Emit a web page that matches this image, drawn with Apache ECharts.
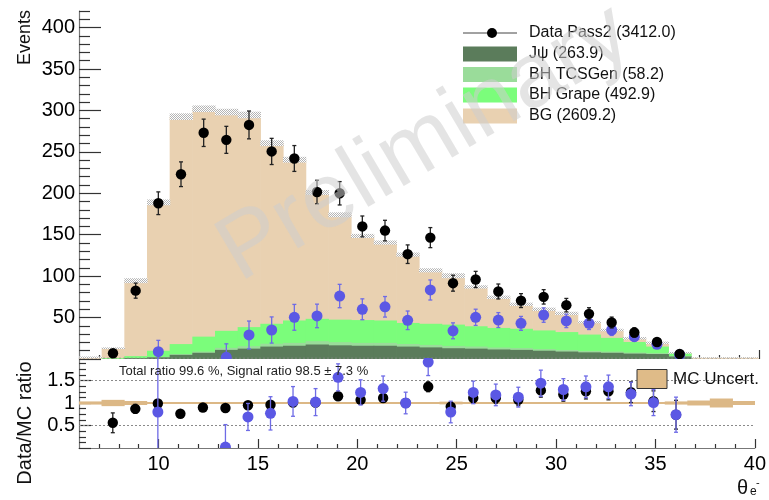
<!DOCTYPE html>
<html>
<head>
<meta charset="utf-8">
<script src="https://cdn.jsdelivr.net/npm/echarts@6/dist/echarts.min.js"></script>
<style>
  html, body { margin: 0; padding: 0; background: #ffffff; }
  #chart { width: 769px; height: 500px; }
</style>
</head>
<body>
<div id="chart"></div>
<script>
// θ(e-) binning: 30 equal bins between 6 and 40 degrees
const xMin = 6, xMax = 40, nBins = 30;

// MC stack components (events per bin)
const mcJpsi   = [0, 0, 1, 2, 5, 7.5, 11, 12.5, 15, 16, 17.5, 16.5, 16, 16, 15, 14, 13, 12.5, 11.5, 11, 10, 9, 8, 7.5, 6.5, 6, 3, 0, 0, 0];
const mcTcsGen = [0, 0, 0.3, 0.5, 1, 1.5, 2.5, 3, 3.5, 3.5, 4, 3.8, 3.5, 3.5, 3.2, 3, 2.8, 2.6, 2.4, 2.2, 2, 1.9, 1.7, 1.5, 1.3, 1.1, 0.6, 0, 0, 0];
const mcGrape  = [0, 1, 2.2, 7.5, 12, 18, 20.5, 23, 24, 27, 27, 27.2, 27.5, 27, 25.3, 25.5, 25.7, 24.4, 23.6, 23.3, 22.5, 21.6, 19.8, 16.5, 12.7, 7.9, 3.4, 0, 0, 0];
const mcBG     = [2, 12, 91, 179, 274.5, 275, 264, 256, 218, 194, 152.5, 126.5, 101.5, 94, 82.5, 64.5, 59, 47.5, 37, 29.5, 25.5, 22.5, 15, 9.5, 4.5, 4.5, 0.5, 1.5, 1.5, 1.5];
// MC statistical uncertainty on the stack total (events)
const mcStatErr = [1, 1, 3, 3.5, 4, 4, 4, 4, 3.5, 3.5, 3, 3, 2.5, 2.5, 2.5, 2.5, 3, 2, 2, 2, 2, 2, 1.5, 1.5, 1.5, 1.5, 1, 0.5, 0.5, 0.5];

// Data (Pass2) and background-subtracted data
const dataPass2   = [null, 7, 82.5, 188, 223, 273, 264.5, 282.5, 250.5, 242, 201.5, 200, 160, 155, 126.5, 146.5, 91.5, 96, 81.5, 70.5, 75, 65, 54.5, 44, 32, 20.5, 6, null, null, null];
const dataErr     = [null, 2.6, 9.1, 13.7, 14.9, 16.5, 16.3, 16.8, 15.8, 15.6, 14.2, 14.1, 12.6, 12.4, 11.2, 12.1, 9.6, 9.8, 9.0, 8.4, 8.7, 8.1, 7.4, 6.6, 5.7, 4.5, 2.4, null, null, null];
const dataMinusBG = [null, null, null, 8.8, null, null, 2, 29, 35, 50.3, 52, 76, 60, 63, 46.7, 83.3, 34, 50.3, 47, 43, 53, 46, 43, 35, 27, 17.7, 5, null, null, null];

// Data/MC ratios
const ratioTotal     = [null, 0.56, 0.87, 0.99, 0.76, 0.90, 0.89, 0.95, 0.96, 1.01, 1.01, 1.15, 1.07, 1.11, 1.00, 1.36, 0.92, 1.11, 1.11, 1.07, 1.28, 1.19, 1.26, 1.26, 1.24, 1.04, 0.74, null, null, null];
const ratioTotalErr  = [null, 0.22, 0.1, 0.07, 0.05, 0.06, 0.06, 0.06, 0.06, 0.065, 0.07, 0.08, 0.085, 0.09, 0.09, 0.11, 0.1, 0.11, 0.12, 0.13, 0.15, 0.15, 0.17, 0.19, 0.23, 0.23, 0.32, null, null, null];
const ratioSignal    = [null, null, null, 0.8, null, null, 0.02, 0.69, 0.77, 1.035, 1.02, 1.57, 1.235, 1.32, 1.0, 1.91, 0.8, 1.235, 1.18, 1.13, 1.44, 1.30, 1.36, 1.36, 1.2, 1.01, 0.74, null, null, null];
const ratioSignalErr = [null, null, null, 1.4, null, null, 0.5, 0.3, 0.37, 0.33, 0.3, 0.3, 0.28, 0.28, 0.24, 0.3, 0.24, 0.25, 0.24, 0.22, 0.29, 0.24, 0.24, 0.26, 0.26, 0.29, 0.39, null, null, null];
// relative MC uncertainty drawn around 1 in the ratio pad
const mcRelErr = [0.035, 0.07, 0.045, 0.015, 0.015, 0.015, 0.015, 0.015, 0.015, 0.015, 0.015, 0.015, 0.015, 0.015, 0.015, 0.015, 0.03, 0.02, 0.02, 0.02, 0.02, 0.02, 0.02, 0.02, 0.02, 0.02, 0.035, 0.055, 0.1, 0.045];

// Tick labels
const xTickLabels = [10, 15, 20, 25, 30, 35, 40];
const xMinorTicks = [7, 8, 9, 11, 12, 13, 14, 16, 17, 18, 19, 21, 22, 23, 24, 26, 27, 28, 29, 31, 32, 33, 34, 36, 37, 38, 39];
const yTickLabels = [50, 100, 150, 200, 250, 300, 350, 400];
const yMajorTicks = [0, 50, 100, 150, 200, 250, 300, 350, 400];
const yMinorTicks = [10, 20, 30, 40, 60, 70, 80, 90, 110, 120, 130, 140, 160, 170, 180, 190, 210, 220, 230, 240, 260, 270, 280, 290, 310, 320, 330, 340, 360, 370, 380, 390, 410, 420];
const rTickLabels = [0.5, 1, 1.5];
const rMajorTicks = [0, 0.5, 1, 1.5, 2];
const rMinorTicks = [0.125, 0.25, 0.375, 0.625, 0.75, 0.875, 1.125, 1.25, 1.375, 1.625, 1.75, 1.875];
const rGuideLines = [0.5, 1.5, 2];

// Legend texts
const legendData = 'Data Pass2 (3412.0)';
const legendStack = ['Jψ (263.9)', 'BH TCSGen (58.2)', 'BH Grape (492.9)', 'BG (2609.2)'];
const ratioSummary = 'Total ratio 99.6 %, Signal ratio 98.5 \u00b1 7.3 %';

// ---------------------------------------------------------------------------
const FONT = 'Liberation Sans, Arial, Helvetica, sans-serif';
const C_JPSI = '#5b7c5b', C_TCS = '#9adc9a', C_GRAPE = '#7bfd7b', C_BG = '#e9d1b1';
const C_BAND = '#dcb886', C_BLUE = '#5b58e4', C_BLUE_ERR = '#6e6be6';

const binW = (xMax - xMin) / nBins;
const edges = Array.from({ length: nBins + 1 }, (_, i) => xMin + i * binW);
const centers = edges.slice(0, -1).map((e, i) => (e + edges[i + 1]) / 2);

// hatched grey fill for the MC uncertainty band
const hatch = document.createElement('canvas');
hatch.width = 2; hatch.height = 2;
(function () {
  const c = hatch.getContext('2d');
  c.fillStyle = '#ffffff'; c.fillRect(0, 0, 2, 2);
  c.fillStyle = '#b4b4b4'; c.fillRect(0, 0, 1, 1); c.fillRect(1, 1, 1, 1);
})();

function rectRenderer(fill) {
  return function (params, api) {
    const p0 = api.coord([api.value(0), api.value(3)]);
    const p1 = api.coord([api.value(1), api.value(2)]);
    return {
      type: 'rect',
      shape: { x: p0[0], y: p0[1], width: p1[0] - p0[0] + 0.6, height: p1[1] - p0[1] },
      style: { fill: fill }
    };
  };
}

function pointRenderer(color, errColor, cap, radius) {
  return function (params, api) {
    const x = api.value(0), y = api.value(1), e = api.value(2);
    const c = api.coord([x, y]);
    const a = api.coord([x, y + e]);
    const b = api.coord([x, y - e]);
    const st = { stroke: errColor, lineWidth: 1.3 };
    return {
      type: 'group',
      children: [
        { type: 'line', shape: { x1: a[0], y1: a[1], x2: b[0], y2: b[1] }, style: st },
        { type: 'line', shape: { x1: a[0] - cap, y1: a[1], x2: a[0] + cap, y2: a[1] }, style: st },
        { type: 'line', shape: { x1: b[0] - cap, y1: b[1], x2: b[0] + cap, y2: b[1] }, style: st },
        { type: 'circle', shape: { cx: c[0], cy: c[1], r: radius }, style: { fill: color } }
      ]
    };
  };
}

function pointsOf(vals, errs) {
  const out = [];
  vals.forEach((v, i) => { if (v !== null) out.push([centers[i], v, errs[i]]); });
  return out;
}

const series = [];

// stacked MC histograms (cumulative heights, drawn back to front)
const layers = [[mcJpsi, C_JPSI], [mcTcsGen, C_TCS], [mcGrape, C_GRAPE], [mcBG, C_BG]];
const cumul = [];
let run = new Array(nBins).fill(0);
layers.forEach(([vals]) => { run = run.map((r, i) => r + vals[i]); cumul.push(run.slice()); });
for (let k = layers.length - 1; k >= 0; k--) {
  series.push({
    type: 'custom', xAxisIndex: 0, yAxisIndex: 0, clip: true, z: 1, silent: true,
    renderItem: rectRenderer(layers[k][1]),
    encode: { x: [0, 1], y: [2, 3] },
    data: cumul[k].map((h, i) => [edges[i], edges[i + 1], 0, h])
  });
}
const stackTotal = cumul[cumul.length - 1];
series.push({
  type: 'custom', xAxisIndex: 0, yAxisIndex: 0, clip: true, z: 2, silent: true,
  renderItem: rectRenderer({ image: hatch, repeat: 'repeat' }),
  encode: { x: [0, 1], y: [2, 3] },
  data: stackTotal.map((h, i) => [edges[i], edges[i + 1], h - mcStatErr[i], h + mcStatErr[i]])
});
// background-subtracted data, then data
series.push({
  type: 'custom', xAxisIndex: 0, yAxisIndex: 0, clip: true, z: 3, silent: true,
  renderItem: pointRenderer(C_BLUE, C_BLUE_ERR, 2, 5.5),
  data: pointsOf(dataMinusBG, dataErr)
});
series.push({
  type: 'custom', xAxisIndex: 0, yAxisIndex: 0, clip: true, z: 4, silent: true,
  renderItem: pointRenderer('#000000', '#222222', 2, 5.2),
  data: pointsOf(dataPass2, dataErr)
});

// ratio pad
series.push({
  type: 'custom', xAxisIndex: 2, yAxisIndex: 2, clip: true, z: 1, silent: true,
  renderItem: rectRenderer(C_BAND),
  encode: { x: [0, 1], y: [2, 3] },
  data: mcRelErr.map((e, i) => [edges[i], edges[i + 1], 1 - e, 1 + e])
});
series.push({
  type: 'line', xAxisIndex: 2, yAxisIndex: 2, z: 1, silent: true, symbol: 'none',
  lineStyle: { color: C_BAND, width: 2 },
  data: [[xMin, 1], [xMax, 1]]
});
rGuideLines.forEach(v => {
  series.push({
    type: 'line', xAxisIndex: 2, yAxisIndex: 2, z: 1, silent: true, symbol: 'none',
    lineStyle: { color: '#8a8a8a', width: 1, type: [2, 2] },
    data: [[xMin, v], [xMax, v]]
  });
});
series.push({
  type: 'custom', xAxisIndex: 2, yAxisIndex: 2, clip: true, z: 3, silent: true,
  renderItem: pointRenderer('#000000', '#222222', 2, 5.2),
  data: pointsOf(ratioTotal, ratioTotalErr)
});
series.push({
  type: 'custom', xAxisIndex: 2, yAxisIndex: 2, clip: true, z: 4, silent: true,
  renderItem: pointRenderer(C_BLUE, C_BLUE_ERR, 2, 5.5),
  data: pointsOf(ratioSignal, ratioSignalErr)
});

const tickStyle = { color: '#333333', width: 1.2 };
function xAxisPair(grid, withLabels) {
  return [{
    type: 'value', gridIndex: grid, min: xMin, max: xMax, position: 'bottom',
    axisLine: { show: withLabels, onZero: false, lineStyle: { color: '#777777', width: 1.2 } },
    axisTick: { show: true, inside: true, length: 9, customValues: xTickLabels, lineStyle: tickStyle },
    axisLabel: { show: withLabels, customValues: xTickLabels, fontFamily: FONT, fontSize: 20, color: '#000', margin: 6 },
    splitLine: { show: false }
  }, {
    type: 'value', gridIndex: grid, min: xMin, max: xMax, position: 'bottom',
    axisLine: { show: false },
    axisTick: { show: true, inside: true, length: 4, customValues: xMinorTicks, lineStyle: tickStyle },
    axisLabel: { show: false },
    splitLine: { show: false }
  }];
}
function yAxisPair(grid, min, max, major, minor, labels, majLen, minLen) {
  return [{
    type: 'value', gridIndex: grid, min: min, max: max, position: 'left',
    axisLine: { show: true, lineStyle: { color: '#777777', width: 1.2 } },
    axisTick: { show: true, inside: true, length: majLen, customValues: major, lineStyle: tickStyle },
    axisLabel: { show: true, customValues: labels, fontFamily: FONT, fontSize: 20, color: '#000', margin: 4 },
    splitLine: { show: false }
  }, {
    type: 'value', gridIndex: grid, min: min, max: max, position: 'left',
    axisLine: { show: false },
    axisTick: { show: true, inside: true, length: minLen, customValues: minor, lineStyle: tickStyle },
    axisLabel: { show: false },
    splitLine: { show: false }
  }];
}

// legend (upper pad)
const legendX = 463, legendTextX = 529, legendRowY = [33, 54, 74.5, 95, 116];
const graphics = [
  { type: 'line', shape: { x1: legendX, y1: legendRowY[0], x2: legendX + 54, y2: legendRowY[0] }, style: { stroke: '#444', lineWidth: 1 }, z: 20 },
  { type: 'circle', shape: { cx: legendX + 29, cy: legendRowY[0], r: 5 }, style: { fill: '#000' }, z: 20 },
  { type: 'text', x: legendTextX, y: legendRowY[0], style: { text: legendData, fontFamily: FONT, fontSize: 16, fill: '#111', verticalAlign: 'middle' }, z: 20 }
];
[C_JPSI, C_TCS, C_GRAPE, C_BG].forEach((col, k) => {
  graphics.push({ type: 'rect', shape: { x: legendX, y: legendRowY[k + 1] - 7.5, width: 54, height: 15 }, style: { fill: col }, z: 20 });
  graphics.push({ type: 'text', x: legendTextX, y: legendRowY[k + 1], style: { text: legendStack[k], fontFamily: FONT, fontSize: 16, fill: '#111', verticalAlign: 'middle' }, z: 20 });
});
// axis titles
graphics.push({ type: 'text', x: 25, y: 37.5, rotation: Math.PI / 2, style: { text: 'Events', fontFamily: FONT, fontSize: 18, fill: '#111', align: 'center', verticalAlign: 'middle' }, z: 20 });
graphics.push({ type: 'text', x: 25, y: 423, rotation: Math.PI / 2, style: { text: 'Data/MC ratio', fontFamily: FONT, fontSize: 20, fill: '#111', align: 'center', verticalAlign: 'middle' }, z: 20 });
graphics.push({ type: 'text', x: 737, y: 488, style: { text: 'θ', fontFamily: FONT, fontSize: 20, fill: '#111', verticalAlign: 'middle' }, z: 20 });
graphics.push({ type: 'text', x: 750, y: 492, style: { text: 'e', fontFamily: FONT, fontSize: 12, fill: '#111', verticalAlign: 'middle' }, z: 20 });
graphics.push({ type: 'text', x: 756, y: 483, style: { text: '-', fontFamily: FONT, fontSize: 11, fill: '#111', verticalAlign: 'middle' }, z: 20 });
// ratio pad annotations
graphics.push({ type: 'text', x: 119, y: 371, style: { text: ratioSummary, fontFamily: FONT, fontSize: 13, fill: '#222', verticalAlign: 'middle' }, z: 20 });
graphics.push({ type: 'rect', shape: { x: 637, y: 369.5, width: 30, height: 19 }, style: { fill: '#dfbb88', stroke: '#333', lineWidth: 1 }, z: 20 });
graphics.push({ type: 'text', x: 673, y: 379, style: { text: 'MC Uncert.', fontFamily: FONT, fontSize: 17, fill: '#111', verticalAlign: 'middle' }, z: 20 });
// watermark
graphics.push({ type: 'text', x: 425, y: 144, rotation: 30.5 * Math.PI / 180, silent: true,
  style: { text: 'Preliminary', fontFamily: FONT, fontSize: 92, fill: 'rgba(205,205,205,0.55)', align: 'center', verticalAlign: 'middle' }, z: 50 });

const chart = echarts.init(document.getElementById('chart'), null, { renderer: 'canvas' });
chart.setOption({
  animation: false,
  backgroundColor: '#ffffff',
  grid: [
    { left: 79, top: 11, width: 680, height: 348, containLabel: false },
    { left: 79, top: 358, width: 680, height: 90, containLabel: false }
  ],
  xAxis: [...xAxisPair(0, false), ...xAxisPair(1, true)],
  yAxis: [
    ...yAxisPair(0, 0, 420, yMajorTicks, yMinorTicks, yTickLabels, 22, 11),
    ...yAxisPair(1, 0, 2, rMajorTicks, rMinorTicks, rTickLabels, 12, 7)
  ],
  series: series,
  graphic: graphics
});
</script>
</body>
</html>
